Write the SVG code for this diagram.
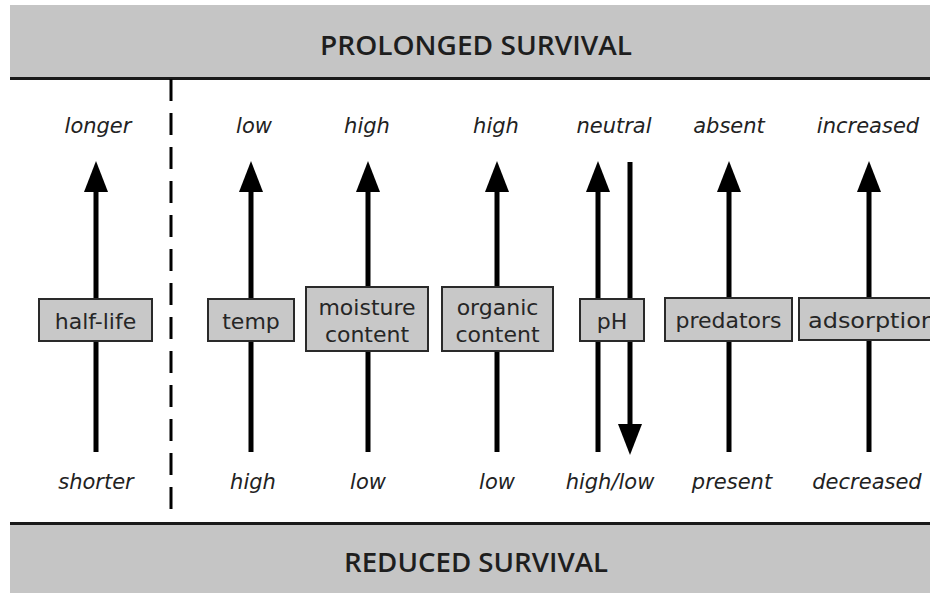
<svg xmlns="http://www.w3.org/2000/svg" width="930" height="593" viewBox="0 0 930 593">
<defs>
<style>
.band{fill:#c5c5c5}
.rule{stroke:#1a1a1a;stroke-width:3}
.head{font-family:"Open Sans","DejaVu Sans",sans-serif;font-weight:600;font-size:27px;fill:#1e1e1e;text-anchor:middle}
.lab{font-family:"DejaVu Sans",sans-serif;font-style:italic;font-size:21px;fill:#222;text-anchor:middle}
.box{fill:#c8c8c8;stroke:#2a2a2a;stroke-width:2}
.bt{font-family:"DejaVu Sans",sans-serif;font-size:22px;fill:#262626;text-anchor:middle}
.arr{stroke:#000;stroke-width:5;fill:none;marker-end:url(#ah)}
.dash{stroke:#000;stroke-width:3;stroke-dasharray:22 12}
</style>
<marker id="ah" markerUnits="userSpaceOnUse" markerWidth="32" markerHeight="26" viewBox="0 0 32 26" refX="17" refY="12" orient="auto">
<path d="M0,0 L31,12 L0,24 Z" fill="#000"/>
</marker>
</defs>
<rect width="930" height="593" fill="#fff"/>
<g id="top-band">
<rect class="band" x="10" y="5" width="920" height="73"/>
<line class="rule" x1="10" y1="78.5" x2="930" y2="78.5"/>
<text class="head" x="476" y="55" textLength="312" lengthAdjust="spacingAndGlyphs">PROLONGED SURVIVAL</text>
</g>
<g id="bottom-band">
<rect class="band" x="10" y="524" width="920" height="69"/>
<line class="rule" x1="10" y1="523.5" x2="930" y2="523.5"/>
<text class="head" x="476" y="572" textLength="264" lengthAdjust="spacingAndGlyphs">REDUCED SURVIVAL</text>
</g>
<g id="connectors">
<line class="dash" x1="171" y1="79" x2="171" y2="512"/>
<line class="arr" x1="96" y1="452" x2="96" y2="175"/>
<line class="arr" x1="251" y1="452" x2="251" y2="175"/>
<line class="arr" x1="368" y1="452" x2="368" y2="175"/>
<line class="arr" x1="497" y1="452" x2="497" y2="175"/>
<line class="arr" x1="598" y1="452" x2="598" y2="175"/>
<line class="arr" x1="630" y1="162" x2="630" y2="441"/>
<line class="arr" x1="729" y1="452" x2="729" y2="175"/>
<line class="arr" x1="869" y1="452" x2="869" y2="175"/>
</g>
<g id="labels">
<text class="lab" x="98" y="133">longer</text>
<text class="lab" x="254" y="133">low</text>
<text class="lab" x="367" y="133">high</text>
<text class="lab" x="496" y="133">high</text>
<text class="lab" x="614" y="133">neutral</text>
<text class="lab" x="729" y="133">absent</text>
<text class="lab" x="868" y="133">increased</text>
<text class="lab" x="96" y="489">shorter</text>
<text class="lab" x="253" y="489">high</text>
<text class="lab" x="368" y="489">low</text>
<text class="lab" x="497" y="489">low</text>
<text class="lab" x="610" y="489">high/low</text>
<text class="lab" x="732" y="489">present</text>
<text class="lab" x="867" y="489">decreased</text>
</g>
<g id="node-half-life">
<rect class="box" x="39" y="299" width="113" height="42"/>
<text class="bt" x="95.5" y="329">half-life</text>
</g>
<g id="node-temp">
<rect class="box" x="208" y="299" width="86" height="42"/>
<text class="bt" x="251" y="329">temp</text>
</g>
<g id="node-moisture">
<rect class="box" x="306" y="287" width="122" height="64"/>
<text class="bt" x="367" y="315">moisture</text>
<text class="bt" x="367" y="342">content</text>
</g>
<g id="node-organic">
<rect class="box" x="442" y="287" width="111" height="64"/>
<text class="bt" x="497.5" y="315">organic</text>
<text class="bt" x="497.5" y="342">content</text>
</g>
<g id="node-ph">
<rect class="box" x="580" y="299" width="64" height="42"/>
<text class="bt" x="612" y="329">pH</text>
</g>
<g id="node-predators">
<rect class="box" x="665" y="298" width="127" height="43"/>
<text class="bt" x="728.5" y="328">predators</text>
</g>
<g id="node-adsorption">
<rect class="box" x="799" y="298" width="145" height="42"/>
<text class="bt" x="808" y="328" style="text-anchor:start" textLength="128" lengthAdjust="spacingAndGlyphs">adsorption</text>
</g>
</svg>
